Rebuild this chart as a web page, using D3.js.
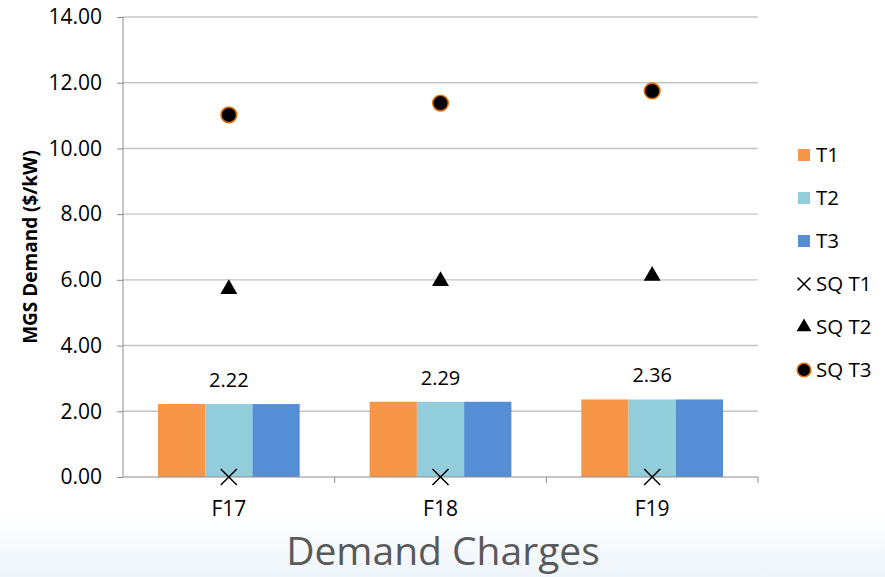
<!DOCTYPE html>
<html>
<head>
<meta charset="utf-8">
<script src="https://cdn.jsdelivr.net/npm/d3@7"></script>
<style>
  body { margin: 0; background: #fff; }
  text { font-family: "Open Sans", Lato, sans-serif; }
</style>
</head>
<body>
<div id="chart"></div>
<script>
// chart data
var categories = ["F17", "F18", "F19"];
var barKeys = ["T1", "T2", "T3"];
var t1 = [2.22, 2.29, 2.36];
var t2 = [2.22, 2.29, 2.36];
var t3 = [2.22, 2.29, 2.36];
var sqT1 = [0, 0, 0];
var sqT2 = [5.72, 5.96, 6.12];
var sqT3 = [11.02, 11.38, 11.75];
var yTicks = [0, 2, 4, 6, 8, 10, 12, 14];

var barColors = { T1: "#F79646", T2: "#92CDDC", T3: "#558ED5" };

var W = 885, H = 577;
var margin = { top: 17, right: 127, bottom: 100, left: 123 };
var width = W - margin.left - margin.right;
var height = H - margin.top - margin.bottom;

var svg = d3.select("#chart").append("svg")
    .attr("width", W)
    .attr("height", H);

// light blue band at the bottom
var grad = svg.append("defs").append("linearGradient")
    .attr("id", "bottomBand")
    .attr("x1", 0).attr("y1", 0).attr("x2", 0).attr("y2", 1);
grad.append("stop").attr("offset", "0%").attr("stop-color", "#ffffff");
grad.append("stop").attr("offset", "100%").attr("stop-color", "#eef5fb");
svg.append("rect")
    .attr("x", 0).attr("y", 512)
    .attr("width", W).attr("height", H - 512)
    .attr("fill", "url(#bottomBand)");

var g = svg.append("g")
    .attr("transform", "translate(" + margin.left + "," + margin.top + ")");

var x0 = d3.scaleBand().domain(categories).range([0, width]).paddingInner(0).paddingOuter(0);
var x1 = d3.scaleBand().domain(barKeys).range([0, x0.bandwidth()]).paddingOuter(0.74).paddingInner(0);
var y = d3.scaleLinear().domain([0, 14]).range([height, 0]);

// gridlines
g.append("g")
    .selectAll("line")
    .data(yTicks.filter(function(d) { return d > 0; }))
    .enter().append("line")
    .attr("x1", 0).attr("x2", width)
    .attr("y1", function(d) { return y(d); })
    .attr("y2", function(d) { return y(d); })
    .attr("stroke", "#c4c4c4")
    .attr("stroke-width", 1.4);

// bars
var rows = categories.map(function(c, i) {
    return { cat: c, T1: t1[i], T2: t2[i], T3: t3[i] };
});
var groups = g.selectAll(".grp")
    .data(rows)
    .enter().append("g")
    .attr("transform", function(d) { return "translate(" + x0(d.cat) + ",0)"; });
groups.selectAll("rect")
    .data(function(d) { return barKeys.map(function(k) { return { key: k, value: d[k] }; }); })
    .enter().append("rect")
    .attr("x", function(d) { return x1(d.key); })
    .attr("y", function(d) { return y(d.value); })
    .attr("width", x1.bandwidth())
    .attr("height", function(d) { return height - y(d.value); })
    .attr("fill", function(d) { return barColors[d.key]; });

// value labels above the middle bar
groups.append("text")
    .attr("x", x0.bandwidth() / 2)
    .attr("y", function(d) { return y(d.T2) - 17; })
    .attr("text-anchor", "middle")
    .attr("font-size", 20)
    .attr("fill", "#000")
    .text(function(d) { return d.T2.toFixed(2); });

// y axis
var yAxis = g.append("g")
    .call(d3.axisLeft(y).tickValues(yTicks).tickFormat(d3.format(".2f")).tickSize(6).tickPadding(15));
yAxis.selectAll("text").attr("font-size", 21).attr("fill", "#000")
    .style("font-family", "'Open Sans', sans-serif");
yAxis.selectAll("line").attr("stroke", "#8c8c8c");
yAxis.select(".domain").attr("stroke", "#8c8c8c").attr("d", "M0," + height + "V0");

// x axis
var xAxis = g.append("g")
    .attr("transform", "translate(0," + height + ")")
    .call(d3.axisBottom(x0).tickSize(0).tickPadding(24));
xAxis.selectAll("text").attr("font-size", 21).attr("fill", "#000")
    .style("font-family", "'Open Sans', sans-serif");
xAxis.select(".domain").attr("stroke", "#8c8c8c").attr("d", "M0,0H" + width);
// category boundary ticks
xAxis.selectAll(".sep")
    .data(categories)
    .enter().append("line")
    .attr("x1", function(d) { return x0(d) + x0.bandwidth(); })
    .attr("x2", function(d) { return x0(d) + x0.bandwidth(); })
    .attr("y1", 0).attr("y2", 6)
    .attr("stroke", "#8c8c8c");

// scatter markers
function cx(i) { return x0(categories[i]) + x0.bandwidth() / 2; }

g.selectAll(".sq1")
    .data(sqT1)
    .enter().append("path")
    .attr("d", d3.symbol().type(d3.symbolX).size(170))
    .attr("transform", function(d, i) { return "translate(" + cx(i) + "," + y(d) + ")"; })
    .attr("fill", "none")
    .attr("stroke", "#000")
    .attr("stroke-width", 1.5);

g.selectAll(".sq2")
    .data(sqT2)
    .enter().append("path")
    .attr("d", d3.symbol().type(d3.symbolTriangle).size(125))
    .attr("transform", function(d, i) { return "translate(" + cx(i) + "," + y(d) + ")"; })
    .attr("fill", "#000");

g.selectAll(".sq3")
    .data(sqT3)
    .enter().append("circle")
    .attr("cx", function(d, i) { return cx(i); })
    .attr("cy", function(d) { return y(d); })
    .attr("r", 7.8)
    .attr("fill", "#000")
    .attr("stroke", "#E46C0A")
    .attr("stroke-width", 1.6);

// y axis title
svg.append("text")
    .attr("transform", "translate(37," + (margin.top + height / 2) + ") rotate(-90)")
    .attr("text-anchor", "middle")
    .attr("font-size", 19)
    .attr("font-weight", "bold")
    .attr("fill", "#000")
    .text("MGS Demand ($/kW)");

// legend
var legendItems = ["T1", "T2", "T3", "SQ T1", "SQ T2", "SQ T3"];
var legend = svg.append("g").attr("transform", "translate(804,155)");
var item = legend.selectAll(".item")
    .data(legendItems)
    .enter().append("g")
    .attr("transform", function(d, i) { return "translate(0," + (i * 43) + ")"; });
item.each(function(d, i) {
    var s = d3.select(this);
    if (i < 3) {
        s.append("rect").attr("x", -6).attr("y", -6).attr("width", 12).attr("height", 12)
            .attr("fill", barColors[d]);
    } else if (i === 3) {
        s.append("path").attr("d", d3.symbol().type(d3.symbolX).size(110))
            .attr("fill", "none").attr("stroke", "#000").attr("stroke-width", 1.6);
    } else if (i === 4) {
        s.append("path").attr("d", d3.symbol().type(d3.symbolTriangle).size(95))
            .attr("fill", "#000");
    } else {
        s.append("circle").attr("r", 6.8).attr("fill", "#000")
            .attr("stroke", "#E46C0A").attr("stroke-width", 1.6);
    }
    s.append("text")
        .attr("x", 12)
        .attr("dy", "0.36em")
        .attr("font-size", 20.5)
        .attr("fill", "#000")
        .text(d);
});

// bottom title
svg.append("text")
    .attr("x", 443)
    .attr("y", 565)
    .attr("text-anchor", "middle")
    .attr("font-size", 39)
    .attr("fill", "#595959")
    .text("Demand Charges");
</script>
</body>
</html>
